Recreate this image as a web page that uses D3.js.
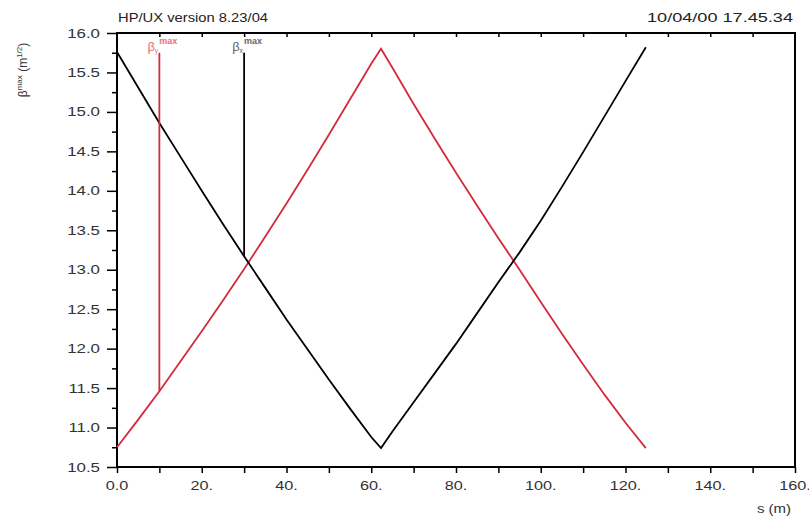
<!DOCTYPE html>
<html><head><meta charset="utf-8">
<script src="https://cdn.jsdelivr.net/npm/d3@7"></script>
<style>
body{margin:0;background:#fff;}
svg{display:block;font-family:"Liberation Sans",Arial,sans-serif;}
</style></head>
<body>
<svg id="c" width="809" height="522"></svg>
<script>
// ---- data ----
const sValues = [0,5,10,15,20,25,30,35,40,45,50,55,60,62.3,65,70,75,80,85,90,95,100,105,110,115,120,124.8];
const betaBlack = [15.76,15.31,14.86,14.43,14.00,13.58,13.17,12.77,12.37,11.99,11.61,11.24,10.88,10.74,10.95,11.32,11.69,12.06,12.45,12.84,13.22,13.62,14.05,14.49,14.94,15.39,15.82];
const betaRed   = [10.75,11.10,11.46,11.84,12.22,12.61,13.01,13.42,13.84,14.27,14.71,15.16,15.61,15.80,15.56,15.10,14.66,14.23,13.81,13.40,13.00,12.59,12.19,11.80,11.42,11.06,10.74];
const markerS = [10, 30];          // positions of vertical markers
const markerBottom = [11.46, 13.17];
const markerTop = 15.75;
const markerSub = ["y", "x"];
const xTicks = [0,20,40,60,80,100,120,140,160];
const xTickLabels = ["0.0","20.","40.","60.","80.","100.","120.","140.","160."];
const yTicks = [10.5,11.0,11.5,12.0,12.5,13.0,13.5,14.0,14.5,15.0,15.5,16.0];
const titleLeft = "HP/UX version 8.23/04";
const titleRight = "10/04/00  17.45.34";

const RED = "#d42a3c";
const svg = d3.select("#c");
const L=117, R=795, T=33, B=467;
const x = d3.scaleLinear().domain([0,160]).range([L,R]);
const y = d3.scaleLinear().domain([10.5,16.0]).range([B,T]);

function stretch(sel, f){
  sel.each(function(){
    const w = this.getComputedTextLength();
    d3.select(this).attr("textLength", w*f).attr("lengthAdjust","spacingAndGlyphs");
  });
}

// header texts
const t1 = svg.append("text").attr("x",L+1).attr("y",22).attr("font-size",12.5).attr("fill","#222").text(titleLeft);
stretch(t1,1.18);
const t2 = svg.append("text").attr("x",R-2).attr("y",22).attr("text-anchor","end").attr("font-size",12.5).attr("fill","#222").text(titleRight);
t2.attr("textLength",146).attr("lengthAdjust","spacingAndGlyphs");

// axes
const minorX = d3.range(0,161,10);
const xb = svg.append("g").attr("transform",`translate(0,${B})`)
  .call(d3.axisBottom(x).tickValues(minorX).tickSize(6).tickFormat(""));
xb.select(".domain").remove();
xb.selectAll("line").attr("stroke","#000").attr("stroke-width",1.5);
const xl = svg.append("g").selectAll("text").data(xTicks).join("text")
  .attr("x",d=>x(d)).attr("y",B+23).attr("text-anchor","middle").attr("font-size",12.5).attr("fill","#333")
  .text((d,i)=>xTickLabels[i]);
stretch(xl,1.3);

const xt = svg.append("g").attr("transform",`translate(0,${T})`)
  .call(d3.axisBottom(x).tickValues(minorX.filter(d=>d>0&&d<160)).tickSize(4).tickFormat(""));
xt.select(".domain").remove();
xt.selectAll("line").attr("stroke","#000").attr("stroke-width",1.5);

const minorY = d3.range(10.75,16,0.5);
const yl = svg.append("g").attr("transform",`translate(${L},0)`)
  .call(d3.axisLeft(y).tickValues(yTicks).tickSize(10).tickFormat(d3.format(".1f")));
yl.select(".domain").remove();
yl.selectAll("line").attr("stroke","#000").attr("stroke-width",1.5);
yl.selectAll("text").attr("font-size",12.5).attr("fill","#333").attr("font-family","Liberation Sans, Arial, sans-serif").attr("x",-17);
stretch(yl.selectAll("text"),1.35);
const ym = svg.append("g").attr("transform",`translate(${L},0)`)
  .call(d3.axisLeft(y).tickValues(minorY).tickSize(5).tickFormat(""));
ym.select(".domain").remove();
ym.selectAll("line").attr("stroke","#000").attr("stroke-width",1.5);

// frame
svg.append("rect").attr("x",L).attr("y",T).attr("width",R-L).attr("height",B-T)
  .attr("fill","none").attr("stroke","#000").attr("stroke-width",2);

// axis labels
const sl = svg.append("text").attr("x",R-21).attr("y",513).attr("text-anchor","middle").attr("font-size",12).attr("fill","#333").text("s (m)");
stretch(sl,1.25);
const yt = svg.append("text").attr("transform","translate(27,70) rotate(-90)").attr("text-anchor","middle").attr("font-size",12).attr("fill","#333");
yt.append("tspan").text("β");
yt.append("tspan").attr("font-size",8).attr("dy",-5).text("max");
yt.append("tspan").attr("dy",5).text(" (m");
yt.append("tspan").attr("font-size",8).attr("dy",-5).text("1/2");
yt.append("tspan").attr("dy",5).text(")");

// curves
const line = d3.line().x((d,i)=>x(sValues[i])).y(d=>y(d));
svg.append("path").datum(betaRed).attr("d",line).attr("fill","none").attr("stroke",RED).attr("stroke-width",1.8);
svg.append("path").datum(betaBlack).attr("d",line).attr("fill","none").attr("stroke","#000").attr("stroke-width",1.8);

// markers
const colors=[RED,"#000"];
const lblColors=["#e8707e","#666"];
markerS.forEach((s,i)=>{
  svg.append("line").attr("x1",x(s)).attr("x2",x(s)).attr("y1",y(markerBottom[i])).attr("y2",y(markerTop))
    .attr("stroke",colors[i]).attr("stroke-width",1.8);
  const t = svg.append("text").attr("x",x(s)-12).attr("y",T+18).attr("font-size",13).attr("fill",lblColors[i]);
  t.append("tspan").text("β");
  t.append("tspan").attr("font-size",7).attr("dy",2).text(markerSub[i]);
  t.append("tspan").attr("font-size",9).attr("font-weight","bold").attr("dx",1).attr("dy",-9).text("max");
});
</script>
</body></html>
